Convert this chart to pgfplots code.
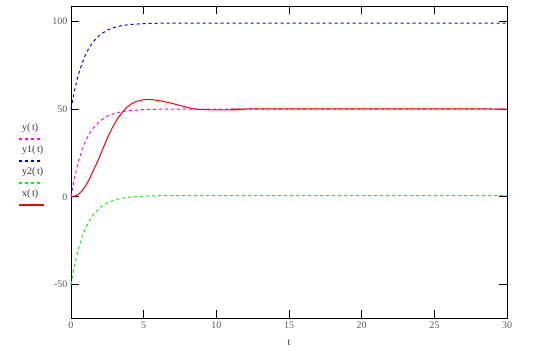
\documentclass[border=0pt]{standalone}
\usepackage{fontspec}
\setmainfont{Liberation Serif}
\usepackage{pgfplots}
\pgfplotsset{compat=1.18}
\definecolor{cM}{RGB}{255,0,255}
\definecolor{cB}{RGB}{0,0,255}
\definecolor{cG}{RGB}{0,255,0}
\definecolor{cR}{RGB}{255,0,0}
\tikzset{
  dsh/.style={line width=1pt, dash pattern=on 3pt off 3pt},
  lg/.style={anchor=west, inner sep=0pt, font=\fontsize{10}{12}\selectfont, text=black!80},
}
\begin{document}
\begin{tikzpicture}
\begin{axis}[
  scale only axis, width=436pt, height=312pt,
  xmin=0, xmax=30, ymin=-69.1, ymax=108.7,
  xtick={0,5,10,15,20,25,30}, ytick={-50,0,50,100},
  tick align=inside, major tick length=8pt,
  axis line style={line width=0.9pt}, every tick/.style={black, line width=0.9pt},
  /pgf/number format/assume math mode=true,
  tick label style={font=\fontsize{10}{12}\selectfont, text=black!65},
  xlabel={t}, xlabel style={font=\fontsize{10}{12}\selectfont, text=black!80, yshift=-5pt},
  clip=false,
]
\addplot[cM, dsh] coordinates {
(0,0) (0.25,11.06) (0.5,19.68) (0.75,26.38) (1,31.61) (1.25,35.68) (1.5,38.84) (2,43.23) (2.5,45.89) (3,47.51) (3.5,48.49) (4,49.08) (5,49.66) (6,49.88) (7,49.95) (8,49.98) (10,50) (30,50)};
\addplot[cB, dsh] coordinates {
(0,50) (0.25,60.84) (0.5,69.28) (0.75,75.85) (1,80.97) (1.25,84.96) (1.5,88.07) (2,92.37) (2.5,94.98) (3,96.56) (3.5,97.52) (4,98.10) (5,98.67) (6,98.88) (7,98.96) (8,98.99) (10,99) (30,99)};
\addplot[cG, dsh] coordinates {
(0,-50) (0.25,-38.79) (0.5,-30.05) (0.75,-23.25) (1,-17.95) (1.25,-13.83) (1.5,-10.61) (2,-6.16) (2.5,-3.46) (3,-1.82) (3.5,-0.83) (4,-0.23) (5,0.36) (6,0.57) (7,0.65) (8,0.68) (10,0.7) (30,0.7)};
\addplot[cR, line width=1pt, smooth, tension=0.4] coordinates {
(0,0) (0.25,0.4) (0.5,1.3) (0.8,3.8) (1.2,9) (1.5,14.3) (1.85,20.5) (2.2,27.5) (2.55,34.3) (2.9,40.2) (3.25,45) (3.6,48.8) (3.9,51.4) (4.4,54) (5.0,55.3) (5.5,55.4) (6.0,54.8) (6.6,53.9) (7.15,52.8) (7.7,51.6) (8.4,50.2) (9.2,49.6) (11.8,49.6) (11.85,50) (30,50)};
% legend
\node[lg] at (axis description cs:-0.1124,0.609) {y(\,t)};
\draw[cM, dsh, line width=1.2pt] (axis description cs:-0.1193,0.574) -- (axis description cs:-0.0711,0.574);
\node[lg] at (axis description cs:-0.1124,0.538) {y1(\,t)};
\draw[cB, dsh, line width=1.2pt] (axis description cs:-0.1193,0.503) -- (axis description cs:-0.0711,0.503);
\node[lg] at (axis description cs:-0.1124,0.468) {y2(\,t)};
\draw[cG, dsh, line width=1.2pt] (axis description cs:-0.1193,0.433) -- (axis description cs:-0.0711,0.433);
\node[lg] at (axis description cs:-0.1124,0.397) {x(\,t)};
\draw[cR, line width=1.2pt] (axis description cs:-0.1193,0.362) -- (axis description cs:-0.0619,0.362);
\end{axis}
\pgfresetboundingbox
\path[use as bounding box] ([xshift=-71pt,yshift=-41pt]current axis.south west) rectangle ++(535pt,359pt);
\end{tikzpicture}
\end{document}
